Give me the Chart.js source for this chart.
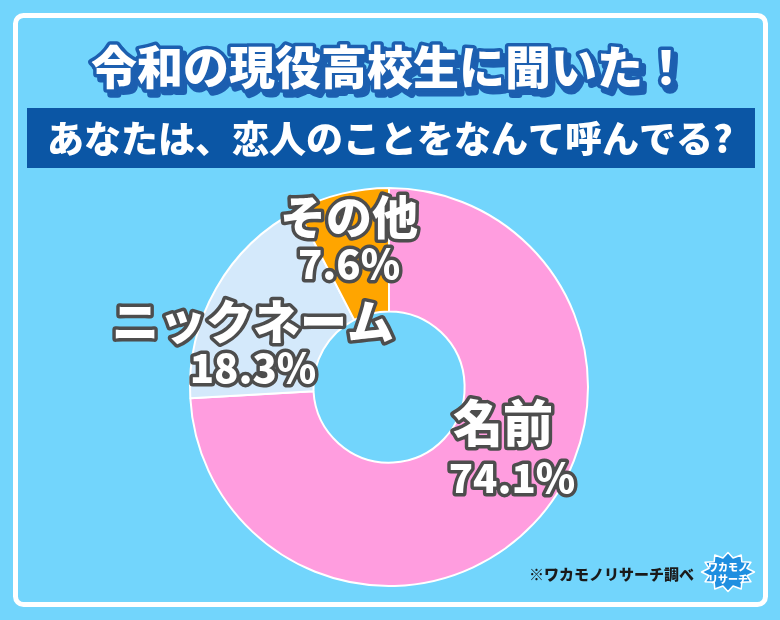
<!DOCTYPE html>
<html>
<head>
<meta charset="utf-8">
<script src="https://cdn.jsdelivr.net/npm/chart.js@4"></script>
<style>
  html, body { margin: 0; padding: 0; background: #72d5fc; }
  canvas { display: block; }
</style>
</head>
<body>
<canvas id="myChart" width="780" height="620"></canvas>
<script>
const categories = ['名前', 'ニックネーム', 'その他'];
const percents = [74.1, 18.3, 7.6];
const sliceColors = ['#ff9ddf', '#d4e9fb', '#ffa500'];

const titleText = '令和の現役高校生に聞いた！';
const questionText = 'あなたは、恋人のことをなんて呼んでる?';
const sourceText = '※ワカモノリサーチ調べ';

// where each slice label is written (centre of the name line)
const labelPos = [[503, 423], [253, 321], [349, 217]];

const JP = '"Noto Sans CJK JP", "Noto Sans", sans-serif';

function outlined(ctx, text, x, y, size, stroke, lw) {
  ctx.font = '900 ' + size + 'px ' + JP;
  ctx.textAlign = 'center';
  ctx.textBaseline = 'middle';
  ctx.lineJoin = 'round';
  ctx.lineWidth = lw;
  ctx.strokeStyle = stroke;
  ctx.strokeText(text, x, y);
  ctx.fillStyle = '#fff';
  ctx.fillText(text, x, y);
}

const backdrop = {
  id: 'backdrop',
  beforeDraw(chart) {
    const ctx = chart.ctx;
    ctx.save();
    ctx.fillStyle = '#72d5fc';
    ctx.fillRect(0, 0, chart.width, chart.height);

    // white frame
    ctx.strokeStyle = '#ffffff';
    ctx.lineWidth = 5;
    ctx.beginPath();
    ctx.roundRect(15.5, 15.5, 750, 589, 8);
    ctx.stroke();

    // title with shadow
    ctx.font = '900 46px ' + JP;
    ctx.textAlign = 'center';
    ctx.textBaseline = 'middle';
    ctx.lineJoin = 'round';
    ctx.lineWidth = 7;
    ctx.strokeStyle = '#1c5fb0';
    ctx.fillStyle = '#1c5fb0';
    ctx.strokeText(titleText, 394, 72);
    ctx.fillText(titleText, 394, 72);
    ctx.strokeText(titleText, 390, 67);
    ctx.fillStyle = '#fff';
    ctx.fillText(titleText, 390, 67);

    // question band
    ctx.fillStyle = '#0b56a5';
    ctx.fillRect(27, 108, 728, 60);
    ctx.font = '900 37px ' + JP;
    ctx.fillStyle = '#fff';
    ctx.fillText(questionText, 390, 139);
    ctx.restore();
  },
  afterDraw(chart) {
    const ctx = chart.ctx;
    ctx.save();
    const nameSizes = [50, 47, 46];
    categories.forEach((c, i) => {
      const [x, y] = labelPos[i];
      outlined(ctx, c, x, y, nameSizes[i], '#4d4d4d', 7);
      outlined(ctx, percents[i].toFixed(1) + '%', x + (i === 0 ? 9 : 0), y + 55 - (i === 0 ? 0 : 8), 40, '#4d4d4d', 7);
    });

    // source note
    ctx.font = '900 15px ' + JP;
    ctx.fillStyle = '#1a1a1a';
    ctx.textAlign = 'right';
    ctx.textBaseline = 'middle';
    ctx.fillText(sourceText, 694, 574);

    // small logo badge
    const lx = 728, ly = 572;
    ctx.fillStyle = '#1f8fe0';
    ctx.beginPath();
    for (let k = 0; k < 24; k++) {
      const a = k / 24 * Math.PI * 2;
      const r = k % 2 ? 17 : 23;
      const px = lx + Math.cos(a) * r * 1.15, py = ly + Math.sin(a) * r * 0.85;
      k ? ctx.lineTo(px, py) : ctx.moveTo(px, py);
    }
    ctx.closePath();
    ctx.fill();
    ctx.strokeStyle = '#fff';
    ctx.lineWidth = 1.5;
    ctx.stroke();
    ctx.font = '900 10px ' + JP;
    ctx.textAlign = 'center';
    ctx.fillStyle = '#fff';
    ctx.fillText('ワカモノ', lx, ly - 5);
    ctx.fillText('リサーチ', lx, ly + 7);
    ctx.restore();
  }
};

const ctx = document.getElementById('myChart');

new Chart(ctx, {
  type: 'doughnut',
  data: {
    labels: categories,
    datasets: [{
      data: percents,
      backgroundColor: sliceColors,
      borderColor: '#ffffff',
      borderWidth: 2
    }]
  },
  options: {
    responsive: false,
    animation: false,
    cutout: '38%',
    layout: {
      padding: { left: 189, right: 191, top: 187, bottom: 33 }
    },
    plugins: {
      legend: { display: false },
      tooltip: { enabled: false }
    }
  },
  plugins: [backdrop]
});
</script>
</body>
</html>
